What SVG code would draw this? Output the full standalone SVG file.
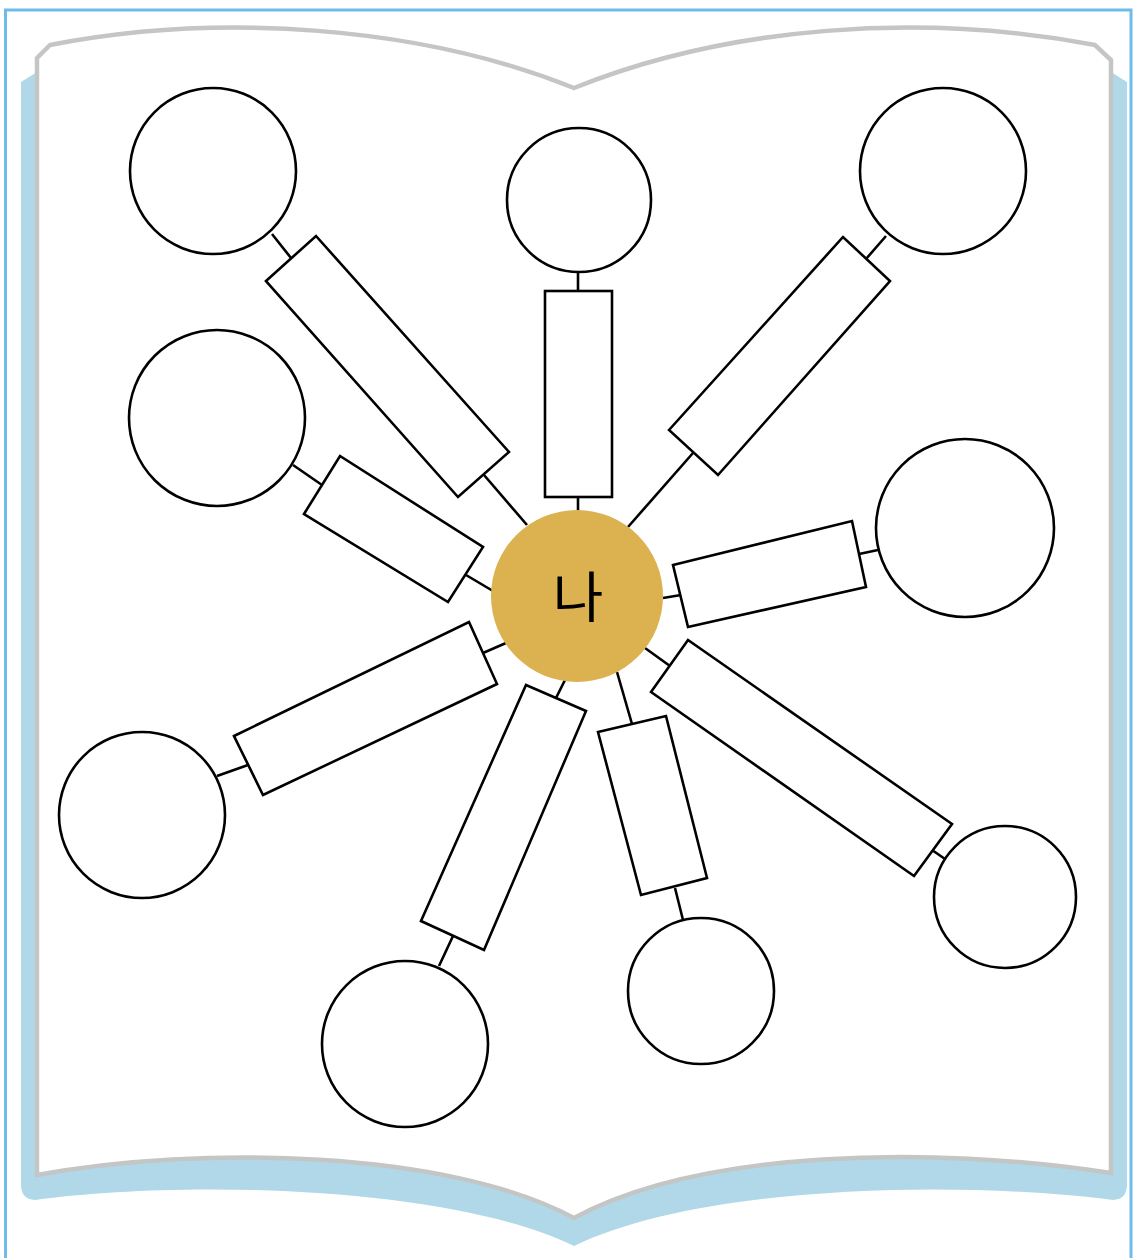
<svg xmlns="http://www.w3.org/2000/svg" width="1134" height="1258" viewBox="0 0 1134 1258">
<style>
.n{fill:#fff;stroke:#000;stroke-width:2.6}
.c{stroke:#000;stroke-width:2.6;fill:none}
</style>
<rect x="0" y="0" width="1134" height="1258" fill="#fff"/>
<rect x="5.5" y="10" width="1125.5" height="1262" fill="none" stroke="#6dbde9" stroke-width="3"/>
<g id="book">
<path d="M21,82 L37,72 L574,160 L1111,72 L1127,82 L1127,1185 Q1127,1199 1113,1200 C960,1180 700,1185 574,1246 C448,1185 180,1180 35,1200 Q21,1199 21,1185 Z" fill="#b0d8e8"/>
<path d="M37,58 L50,45 C220,12 420,26 574,88 C728,26 920,12 1095,45 L1111,60 L1111,1173 C930,1145 700,1150 574,1218 C448,1150 200,1145 37,1175 Z" fill="#fff" stroke="#c4c6c5" stroke-width="4.5" stroke-linejoin="miter"/>
</g>
<g id="connectors">
<line class="c" x1="272" y1="234" x2="291" y2="258"/>
<line class="c" x1="484" y1="475" x2="527" y2="525"/>
<line class="c" x1="578" y1="272" x2="578" y2="291"/>
<line class="c" x1="578" y1="497" x2="578" y2="511"/>
<line class="c" x1="866" y1="259" x2="886" y2="236"/>
<line class="c" x1="693" y1="453" x2="628" y2="527"/>
<line class="c" x1="293" y1="465" x2="322" y2="485"/>
<line class="c" x1="466" y1="575" x2="493" y2="591"/>
<line class="c" x1="859" y1="554" x2="878" y2="550"/>
<line class="c" x1="663" y1="598" x2="681" y2="595"/>
<line class="c" x1="217" y1="776" x2="248" y2="765"/>
<line class="c" x1="483" y1="653" x2="506" y2="643"/>
<line class="c" x1="439" y1="966" x2="453" y2="936"/>
<line class="c" x1="556" y1="698" x2="565" y2="680"/>
<line class="c" x1="617" y1="672" x2="632" y2="724"/>
<line class="c" x1="675" y1="888" x2="683" y2="920"/>
<line class="c" x1="645" y1="648" x2="670" y2="666"/>
<line class="c" x1="932" y1="850" x2="945" y2="859"/>
</g>
<g id="rect-1"><polygon class="n" points="266,281 316,236 509,452 458,497"/></g>
<g id="rect-2"><rect class="n" x="545" y="291" width="67" height="206"/></g>
<g id="rect-3"><polygon class="n" points="669,430 843,237 890,281 718,475"/></g>
<g id="rect-4"><polygon class="n" points="304,514 340,456 483,547 448,602"/></g>
<g id="rect-5"><polygon class="n" points="673,565 852,521 866,587 688,627"/></g>
<g id="rect-6"><polygon class="n" points="234,736 469,622 497,684 263,795"/></g>
<g id="rect-7"><polygon class="n" points="421,921 526,685 586,711 484,950"/></g>
<g id="rect-8"><polygon class="n" points="598,732 666,716 707,878 641,895"/></g>
<g id="rect-9"><polygon class="n" points="651,692 688,640 952,824 914,876"/></g>
<g id="circle-1"><circle class="n" cx="213" cy="171" r="83"/></g>
<g id="circle-2"><circle class="n" cx="579" cy="200" r="72"/></g>
<g id="circle-3"><circle class="n" cx="943" cy="171" r="83"/></g>
<g id="circle-4"><circle class="n" cx="217" cy="418" r="88"/></g>
<g id="circle-5"><circle class="n" cx="965" cy="528" r="89"/></g>
<g id="circle-6"><circle class="n" cx="142" cy="815" r="83"/></g>
<g id="circle-7"><circle class="n" cx="405" cy="1044" r="83"/></g>
<g id="circle-8"><circle class="n" cx="701" cy="991" r="73"/></g>
<g id="circle-9"><circle class="n" cx="1005" cy="897" r="71"/></g>
<g id="center">
<circle cx="577" cy="596" r="86" fill="#dcb14f"/>
<text x="578" y="617" text-anchor="middle" font-family="'Noto Sans CJK KR', sans-serif" font-size="55" fill="#000">나</text>
</g>
</svg>
